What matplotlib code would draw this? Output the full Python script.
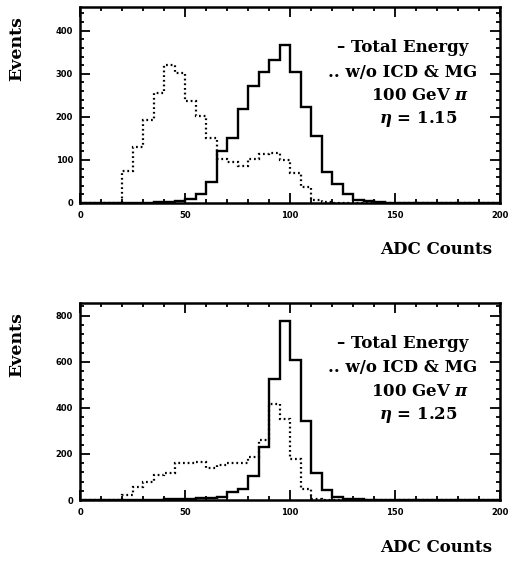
"""
ADC count spectra for 100 GeV pions at two eta values.
Total energy (solid) vs. energy without ICD & MG (dotted).
"""

import numpy as np
import matplotlib
matplotlib.use("Agg")
import matplotlib.pyplot as plt
from matplotlib.ticker import MultipleLocator

plt.rcParams["mathtext.fontset"] = "dejavuserif"

# Bin edges: 0 .. 200 ADC counts, 5 counts wide
bin_edges = np.arange(0, 205, 5)

# eta = 1.15
total_115 = [0, 0, 0, 0, 0, 0, 0, 2, 3, 4,
             9, 22, 49, 120, 152, 219, 271, 304, 332, 367,
             303, 223, 156, 73, 45, 20, 7, 4, 2, 0,
             0, 0, 0, 0, 0, 0, 0, 0, 0, 0]
no_icd_115 = [0, 0, 0, 0, 74, 130, 192, 255, 321, 302,
              237, 202, 152, 103, 95, 87, 103, 113, 116, 99,
              70, 38, 7, 2, 0, 0, 0, 0, 0, 0,
              0, 0, 0, 0, 0, 0, 0, 0, 0, 0]

# eta = 1.25
total_125 = [0, 0, 0, 0, 0, 0, 1, 2, 3, 4,
             6, 8, 10, 15, 33, 49, 103, 232, 526, 777,
             609, 345, 119, 43, 15, 5, 3, 1, 0, 0,
             0, 0, 0, 0, 0, 0, 0, 0, 0, 0]
no_icd_125 = [0, 0, 0, 0, 20, 55, 80, 109, 116, 160,
              162, 167, 140, 150, 162, 160, 185, 262, 417, 352,
              177, 48, 6, 0, 0, 0, 0, 0, 0, 0,
              0, 0, 0, 0, 0, 0, 0, 0, 0, 0]

panels = [
    (total_115, no_icd_115, "1.15", 455, 100, 20),
    (total_125, no_icd_125, "1.25", 855, 200, 40),
]

W, H = 515, 561
fig = plt.figure(figsize=(W / 100, H / 100), dpi=100)

serif = {"family": "DejaVu Serif", "weight": "bold"}

# axes boxes in pixels: left, top, right, bottom
boxes = [(80, 7, 500, 203), (80, 303, 500, 500)]

for (total, no_icd, eta, ymax, ymaj, ymin), (l, t, r, b) in zip(panels, boxes):
    ax = fig.add_axes([l / W, 1 - b / H, (r - l) / W, (b - t) / H])
    ax.stairs(total, bin_edges, color="black", lw=1.7)
    ax.stairs(no_icd, bin_edges, color="black", lw=1.6, linestyle=(0, (0.8, 1.3)))

    ax.set_xlim(0, 200)
    ax.set_ylim(0, ymax)
    ax.xaxis.set_major_locator(MultipleLocator(50))
    ax.xaxis.set_minor_locator(MultipleLocator(10))
    ax.yaxis.set_major_locator(MultipleLocator(ymaj))
    ax.yaxis.set_minor_locator(MultipleLocator(ymin))
    ax.tick_params(which="both", direction="in", top=True, right=True, width=1.3)
    ax.tick_params(which="major", length=7)
    ax.tick_params(which="minor", length=3)
    ax.tick_params(axis="x", pad=6)
    ax.tick_params(axis="y", pad=5)
    for lab in ax.get_xticklabels() + ax.get_yticklabels():
        lab.set_fontsize(6)
        lab.set_fontweight("heavy")
    for sp in ax.spines.values():
        sp.set_linewidth(1.8)

    # y label near the top of the axis
    fig.text(17 / W, 1 - (t + 42) / H, "Events", rotation=90, ha="center",
             va="center", fontsize=12.5, **serif)
    # x label at the right, below the axis
    fig.text(436 / W, 1 - (b + 47) / H, "ADC Counts", ha="center",
             va="center", fontsize=12, **serif)

    # in-plot annotations
    ax_txt = [
        (403, 40, "\u2013 Total Energy"),
        (403, 65, ".. w/o ICD & MG"),
        (420, 89, "100 GeV $\\boldsymbol{\\pi}$"),
        (418, 112, "$\\boldsymbol{\\eta}$ = " + eta),
    ]
    for x, y, s in ax_txt:
        fig.text(x / W, 1 - (t + y) / H, s, ha="center", va="center",
                 fontsize=12, **serif)

fig.savefig("out.png", dpi=100)
